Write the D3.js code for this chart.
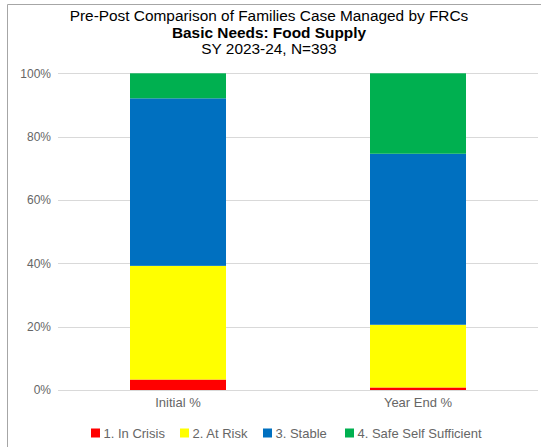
<!DOCTYPE html>
<html>
<head>
<meta charset="utf-8">
<script src="https://cdn.jsdelivr.net/npm/d3@7"></script>
<style>
  html, body { margin: 0; padding: 0; background: #fff; }
  svg { display: block; font-family: "Liberation Sans", Arial, sans-serif; }
</style>
</head>
<body>
<svg id="chart" width="541" height="447"></svg>
<script>
// ---- Data ----
const categories = ["Initial %", "Year End %"];
const seriesNames = ["1. In Crisis", "2. At Risk", "3. Stable", "4. Safe Self Sufficient"];
const inCrisis = [3.3, 0.8];
const atRisk = [35.9, 19.8];
const stable = [52.9, 54.0];
const safeSelfSufficient = [7.9, 25.4];
const seriesColors = ["#FF0000", "#FFFF00", "#0070C0", "#00B050"];
const yTicks = [0, 20, 40, 60, 80, 100];
const titleLines = ["Pre-Post Comparison of Families Case Managed by FRCs", "Basic Needs: Food Supply", "SY 2023-24, N=393"];

const seriesValues = [inCrisis, atRisk, stable, safeSelfSufficient];
const rows = categories.map((c, i) => {
  const r = { category: c };
  seriesNames.forEach((s, j) => r[s] = seriesValues[j][i]);
  return r;
});

const svg = d3.select("#chart");
const labelColor = "#666666";

// frame border (left and top)
svg.append("path")
  .attr("d", `M7.5,447 L7.5,4.5 L541,4.5`)
  .attr("fill", "none").attr("stroke", "#a6a6a6").attr("stroke-width", 1);

// title
const tx = 269;
svg.append("text").attr("x", tx).attr("y", 20.5).attr("text-anchor", "middle")
  .attr("font-size", 15.4).attr("fill", "#000").text(titleLines[0]);
svg.append("text").attr("x", tx).attr("y", 37.5).attr("text-anchor", "middle")
  .attr("font-size", 15.4).attr("font-weight", "bold").attr("fill", "#000").text(titleLines[1]);
svg.append("text").attr("x", tx).attr("y", 53.5).attr("text-anchor", "middle")
  .attr("font-size", 15.4).attr("fill", "#000").text(titleLines[2]);

const x = d3.scaleBand().domain(categories).range([58, 538]).paddingInner(0.6).paddingOuter(0.3);
const y = d3.scaleLinear().domain([0, 100]).range([390, 73.3]);

// gridlines
svg.append("g").selectAll("line").data(yTicks).join("line")
  .attr("x1", 58).attr("x2", 538)
  .attr("y1", d => Math.round(y(d)) + 0.5).attr("y2", d => Math.round(y(d)) + 0.5)
  .attr("stroke", "#d9d9d9").attr("stroke-width", 1);

// y axis labels
const yAxis = d3.axisLeft(y).tickValues(yTicks).tickFormat(d => d + "%").tickSize(0).tickPadding(0);
const gy = svg.append("g").attr("transform", "translate(51,0)").call(yAxis);
gy.select(".domain").remove();
gy.selectAll("text").attr("font-size", 12).attr("fill", labelColor)
  .attr("font-family", "Liberation Sans, Arial, sans-serif");

// stacked bars
const stack = d3.stack().keys(seriesNames);
const stacked = stack(rows);
svg.append("g").selectAll("g").data(stacked).join("g")
  .attr("fill", (d, i) => seriesColors[i])
  .selectAll("rect").data(d => d).join("rect")
  .attr("x", d => x(d.data.category))
  .attr("width", x.bandwidth())
  .attr("y", d => y(d[1]))
  .attr("height", d => y(d[0]) - y(d[1]));

// x axis labels
const xAxis = d3.axisBottom(x).tickSize(0).tickPadding(0);
const gx = svg.append("g").attr("transform", "translate(0,398)").call(xAxis);
gx.select(".domain").remove();
gx.selectAll("text").attr("font-size", 13).attr("fill", labelColor)
  .attr("font-family", "Liberation Sans, Arial, sans-serif");

// legend
const legendX = [91, 180, 263, 345];
const lg = svg.append("g").selectAll("g").data(seriesNames).join("g")
  .attr("transform", (d, i) => `translate(${legendX[i]},428.5)`);
lg.append("rect").attr("width", 9).attr("height", 9).attr("fill", (d, i) => seriesColors[i]);
lg.append("text").attr("x", 12.5).attr("y", 9.5).attr("font-size", 13).attr("fill", labelColor).text(d => d);
</script>
</body>
</html>
